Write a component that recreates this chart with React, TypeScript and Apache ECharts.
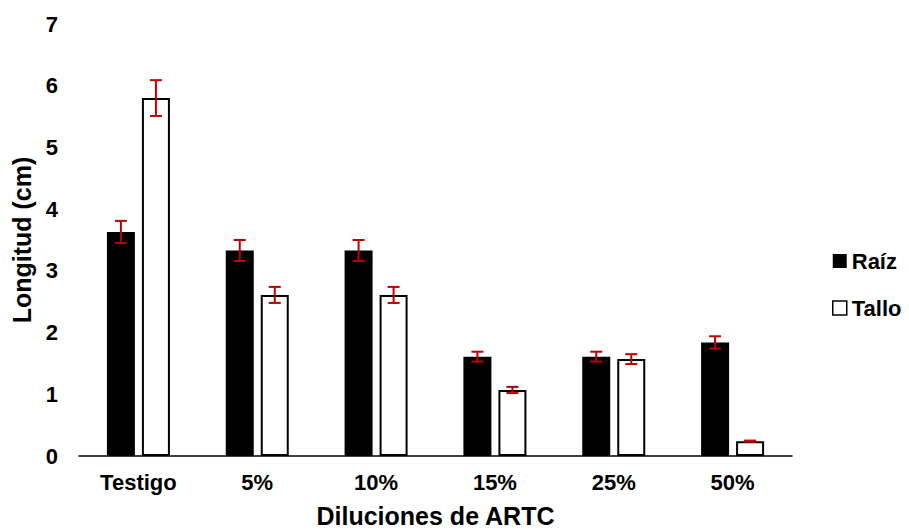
import React, { useEffect, useRef } from "react";
import * as echarts from "echarts";

// Dilution treatments (x axis)
const categories = ["Testigo", "5%", "10%", "15%", "25%", "50%"];

// Mean length (cm) per treatment
const raizValues = [3.63, 3.33, 3.33, 1.61, 1.61, 1.84];
const talloValues = [5.8, 2.61, 2.61, 1.07, 1.57, 0.24];

// Standard error (cm)
const raizErrors = [0.18, 0.17, 0.17, 0.08, 0.08, 0.1];
const talloErrors = [0.29, 0.13, 0.13, 0.05, 0.08, 0.01];

const yTicks = [0, 1, 2, 3, 4, 5, 6, 7];

const FONT = '"Liberation Sans", Arial, sans-serif';
const BAR_WIDTH = 28;
const BAR_OFFSET = 17.5;
const ERR_COLOR = "#C00000";

function errorSeries(values: number[], errors: number[], offset: number) {
  return {
    type: "custom",
    silent: true,
    z: 10,
    data: values.map((v, i) => [i, v, errors[i]]),
    renderItem: (params: any, api: any) => {
      const idx = api.value(0);
      const v = api.value(1);
      const e = api.value(2);
      const top = api.coord([idx, v + e]);
      const bot = api.coord([idx, v - e]);
      const x = top[0] + offset;
      const half = 6;
      const style = { stroke: ERR_COLOR, lineWidth: 2 };
      return {
        type: "group",
        children: [
          { type: "line", shape: { x1: x, y1: top[1], x2: x, y2: bot[1] }, style },
          { type: "line", shape: { x1: x - half, y1: top[1], x2: x + half, y2: top[1] }, style },
          { type: "line", shape: { x1: x - half, y1: bot[1], x2: x + half, y2: bot[1] }, style },
        ],
      };
    },
  };
}

export default function App() {
  const ref = useRef<HTMLDivElement>(null);

  useEffect(() => {
    if (!ref.current) return;
    const chart = echarts.init(ref.current, undefined, { renderer: "svg" });
    chart.setOption({
      animation: false,
      backgroundColor: "#ffffff",
      textStyle: { fontFamily: FONT },
      grid: {
        left: 79,
        right: 117,
        top: 24,
        bottom: 75,
        containLabel: false,
        outerBoundsMode: "none",
      },
      legend: {
        orient: "vertical",
        left: 827,
        top: 245,
        itemWidth: 14,
        itemHeight: 14,
        itemGap: 25,
        icon: "rect",
        textStyle: { fontFamily: FONT, fontWeight: "bold", fontSize: 22, color: "#000" },
        data: [
          { name: "Raíz", itemStyle: { color: "#000", borderColor: "#000", borderWidth: 0 } },
          { name: "Tallo", itemStyle: { color: "#fff", borderColor: "#000", borderWidth: 1.5 } },
        ],
      },
      xAxis: {
        type: "category",
        data: categories,
        name: "Diluciones de ARTC",
        nameLocation: "middle",
        nameGap: 47,
        nameTextStyle: { fontFamily: FONT, fontWeight: "bold", fontSize: 25, color: "#000" },
        axisLine: { lineStyle: { color: "#000", width: 1.5 } },
        axisTick: { show: false },
        axisLabel: { fontFamily: FONT, fontWeight: "bold", fontSize: 22, color: "#000", margin: 15 },
      },
      yAxis: {
        type: "value",
        min: yTicks[0],
        max: yTicks[yTicks.length - 1],
        interval: 1,
        name: "Longitud (cm)",
        nameLocation: "middle",
        nameGap: 43,
        nameTextStyle: { fontFamily: FONT, fontWeight: "bold", fontSize: 25, color: "#000" },
        axisLine: { show: false },
        axisTick: { show: false },
        splitLine: { show: false },
        axisLabel: { fontFamily: FONT, fontWeight: "bold", fontSize: 22, color: "#000", margin: 21 },
      },
      series: [
        {
          name: "Raíz",
          type: "bar",
          data: raizValues,
          barWidth: BAR_WIDTH,
          barGap: "25%",
          itemStyle: { color: "#000", borderColor: "#000", borderWidth: 0 },
        },
        {
          name: "Tallo",
          type: "bar",
          data: talloValues,
          barWidth: BAR_WIDTH,
          itemStyle: { color: "#fff", borderColor: "#000", borderWidth: 2 },
        },
        errorSeries(raizValues, raizErrors, -BAR_OFFSET),
        errorSeries(talloValues, talloErrors, BAR_OFFSET),
      ],
    });
    return () => chart.dispose();
  }, []);

  return (
    <div
      ref={ref}
      style={{ position: "fixed", left: 0, top: 0, width: 909, height: 531, background: "#fff" }}
    />
  );
}
